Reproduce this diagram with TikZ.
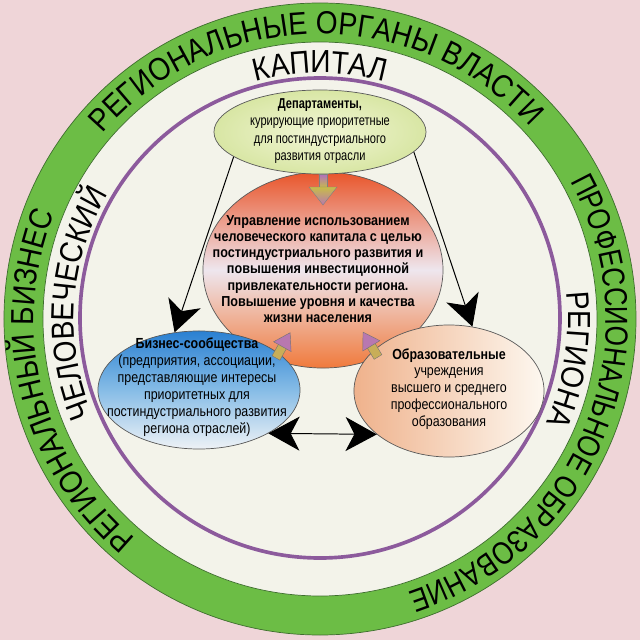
\documentclass[tikz,border=0pt]{standalone}
\usepackage{fontspec}
\setmainfont{Liberation Sans}
\newfontfamily\narT[FakeStretch=0.77]{Liberation Sans}
\newfontfamily\narN[FakeStretch=0.85]{Liberation Sans}
\newfontfamily\narB[FakeStretch=0.87]{Liberation Sans}
\newfontfamily\ringf[FakeStretch=0.88]{Liberation Sans}
\newfontfamily\ringfn[FakeStretch=0.82]{Liberation Sans}
\newcommand{\myringfont}{\ringf\fontsize{22.7}{27}\selectfont}
\newcommand{\myringfontn}{\ringfn\fontsize{22.7}{27}\selectfont}
\usetikzlibrary{shapes.geometric, arrows.meta, decorations.text}
\definecolor{bgpink}{HTML}{EFD5D8}
\definecolor{ringgreen}{HTML}{6CBD45}
\definecolor{ringedge}{HTML}{3E6E2E}
\definecolor{cream}{HTML}{F3F3EA}
\definecolor{ringpurple}{HTML}{8C5A9C}
\definecolor{deptA}{HTML}{F2F6D6}
\definecolor{deptB}{HTML}{D8E6A4}
\definecolor{coreTop}{HTML}{E9552A}
\definecolor{coreMid}{HTML}{EEE6EE}
\definecolor{coreBot}{HTML}{F07A3C}
\definecolor{bizTop}{HTML}{2A80D2}
\definecolor{bizMid}{HTML}{86BCE6}
\definecolor{bizBot}{HTML}{EEF2F6}
\definecolor{eduL}{HTML}{EFB28C}
\definecolor{eduR}{HTML}{FDF8F0}
\definecolor{arrPurple}{HTML}{B070C0}
\definecolor{arrOlive}{HTML}{C8BC48}
\definecolor{arrPink}{HTML}{B878B0}
\definecolor{arrTan}{HTML}{C8AE58}
\tikzset{
  bigtip/.tip={Stealth[length=0.78cm,width=0.85cm,inset=0.22cm]},
  blob/.style={ellipse, draw=black!65, line width=0.5pt, inner sep=0pt},
  txt/.style={align=center, inner sep=0pt},
  link/.style={draw=black, line width=0.7pt},
  ringtext/.style={decorate, decoration={text along path, text align=center, text={|\myringfont|#1}}},
  ringtextn/.style={decorate, decoration={text along path, text align=center, text={|\myringfontn|#1}}}
}
\begin{document}
\begin{tikzpicture}[x=0.025cm,y=0.025cm]
\useasboundingbox (-320,-320) rectangle (320,320);
\fill[bgpink] (-320,-320) rectangle (320,320);
\draw[fill=ringgreen, draw=ringedge, line width=0.5pt] (0,1) circle[radius=316];
\draw[fill=cream, draw=ringedge, line width=0.5pt] (0,1) circle[radius=277];
\draw[ringpurple, line width=2.6pt] (0,2) circle[radius=240];

% texts on the rings
\path[ringtext={РЕГИОНАЛЬНЫЕ ОРГАНЫ ВЛАСТИ}] (181:286) arc[start angle=181, end angle=1, radius=286];
\path[ringtextn={ПРОФЕССИОНАЛЬНОЕ ОБРАЗОВАНИЕ}] (68.5:286) arc[start angle=68.5, end angle=-111.5, radius=286];
\path[ringtext={РЕГИОНАЛЬНЫЙ БИЗНЕС}] (284:286) arc[start angle=284, end angle=104, radius=286];
\path[ringtext={ЧЕЛОВЕЧЕСКИЙ}] (236:246) arc[start angle=236, end angle=116, radius=246];
\path[ringtext={КАПИТАЛ}] (150:247) arc[start angle=150, end angle=30, radius=247];
\path[ringtext={РЕГИОНА}] (51:248) arc[start angle=51, end angle=-69, radius=248];

% shapes
\node[blob, minimum width=6cm, minimum height=4.9cm, top color=coreTop, bottom color=coreBot, middle color=coreMid] (core) at (3,50) {};
\node[blob, minimum width=5.3cm, minimum height=2.1cm, inner color=deptA, outer color=deptB] (dept) at (0,188) {};
\node[blob, minimum width=5.05cm, minimum height=2.95cm, top color=bizTop, bottom color=bizBot, middle color=bizMid] (biz) at (-121,-70) {};
\node[blob, minimum width=4.75cm, minimum height=3.3cm, left color=eduL, right color=eduR] (edu) at (129,-71) {};

% texts
\node[txt, font=\narT\fontsize{10.2}{12.4}\selectfont] (deptT) at (0,189) {\textbf{Департаменты,}\\курирующие приоритетные\\для постиндустриального\\развития отрасли};
\node[txt, font=\narB\bfseries\fontsize{10.3}{11.5}\selectfont] (coreT) at (-2,51) {Управление использованием\\человеческого капитала с целью\\постиндустриального развития и\\повышения инвестиционной\\привлекательности региона.\\Повышение уровня и качества\\жизни населения};
\node[txt, font=\narN\fontsize{10.4}{12}\selectfont] (bizT) at (-123,-67) {\textbf{Бизнес-сообщества}\\(предприятия, ассоциации,\\представляющие интересы\\приоритетных для\\постиндустриального развития\\региона отраслей)};
\node[txt, font=\narN\fontsize{10.4}{12}\selectfont] (eduT) at (129,-69) {\textbf{Образовательные}\\учреждения\\высшего и среднего\\профессионального\\образования};

% connectors
\draw[link, -{bigtip}] (dept.196) -- (biz.113);
\draw[link, -{bigtip}] (dept.-12) -- (edu.70);
\draw[link, {bigtip}-{bigtip}] (biz.-32) -- (edu.211);

% block arrows
\begin{scope}[shift={(3,146)}]
\shade[top color=arrPurple, bottom color=arrOlive, draw=black!50, line width=0.3pt] (-4,0) rectangle (4,-14);
\shade[top color=arrOlive, bottom color=arrPink, draw=black!50, line width=0.3pt] (-14,-13) -- (14,-13) -- (0,-31) -- cycle;
\end{scope}
\begin{scope}[shift={(-44,-38)}, rotate=60.8]
\fill[arrTan, draw=black!55, line width=0.3pt] (0,-4.5) rectangle (14,4.5);
\fill[arrPink, draw=black!55, line width=0.3pt] (13,-10) -- (29,0) -- (13,10) -- cycle;
\end{scope}
\begin{scope}[shift={(58,-37)}, rotate=121]
\fill[arrTan, draw=black!55, line width=0.3pt] (0,-4.5) rectangle (14,4.5);
\fill[arrPink, draw=black!55, line width=0.3pt] (13,-10) -- (29,0) -- (13,10) -- cycle;
\end{scope}
\end{tikzpicture}
\end{document}
